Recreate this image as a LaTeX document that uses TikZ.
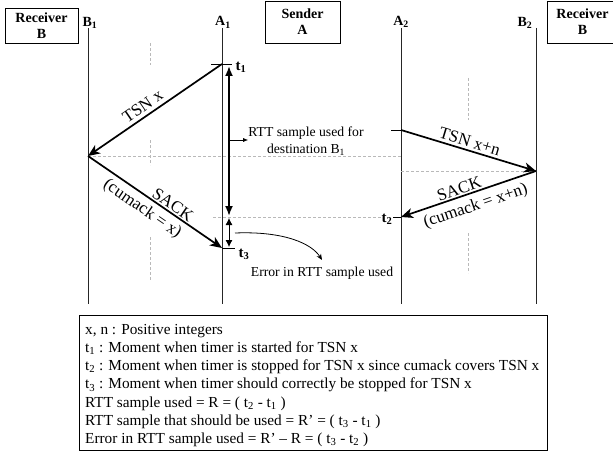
\documentclass[tikz,border=0pt]{standalone}
\usepackage{fontspec}
\setmainfont{Liberation Serif}
\usetikzlibrary{arrows.meta}
\begin{document}
\begin{tikzpicture}[x=1pt,y=-1pt,
  lifeline/.style={draw=black!85, line width=0.9pt},
  msg/.style={line width=1.7pt, -{Stealth[length=12pt,width=10pt,inset=3.5pt]}},
  tick/.style={draw=black, line width=0.9pt},
  guide/.style={draw=gray!55, line width=0.6pt, dash pattern=on 3pt off 2pt},
  hdrbox/.style={draw, line width=0.8pt, font=\fontsize{14}{16}\selectfont\bfseries, align=center, inner sep=0pt},
  lbl/.style={font=\fontsize{14}{16}\selectfont\bfseries, inner sep=0pt},
  tlbl/.style={font=\fontsize{15}{17}\selectfont\bfseries, inner sep=0pt},
  smalltxt/.style={font=\fontsize{13.7}{18}\selectfont, inner sep=0pt},
  arrlbl/.style={font=\fontsize{17}{19}\selectfont, sloped, inner sep=0.5pt},
]
\useasboundingbox (0,0) rectangle (613,452);

% header boxes
\node[hdrbox, minimum width=73, minimum height=35] (rxL) at (41.5,25.5) {Receiver\\B};
\node[hdrbox, minimum width=75, minimum height=42] (snd) at (302.5,22) {Sender\\A};
\node[hdrbox, minimum width=71, minimum height=42] (rxR) at (582.5,22) {Receiver\\B};

% lifeline labels
\node[lbl, anchor=base] (lB1) at (90,26.5) {B\textsubscript{1}};
\node[lbl, anchor=base] (lA1) at (223,26) {A\textsubscript{1}};
\node[lbl, anchor=base] (lA2) at (401,25.5) {A\textsubscript{2}};
\node[lbl, anchor=base] (lB2) at (525,26.5) {B\textsubscript{2}};

% lifelines
\coordinate (B1top) at (88,28);  \coordinate (B1bot) at (88,304);
\coordinate (A1top) at (222,28); \coordinate (A1bot) at (222,304);
\coordinate (A2top) at (401,28); \coordinate (A2bot) at (401,304);
\coordinate (B2top) at (536,28); \coordinate (B2bot) at (536,304);
\draw[lifeline] (B1top) -- (B1bot);
\draw[lifeline] (A1top) -- (A1bot);
\draw[lifeline] (A2top) -- (A2bot);
\draw[lifeline] (B2top) -- (B2bot);

% event points
\coordinate (t1) at (222,64);
\coordinate (rB1) at (88,156);
\coordinate (t3) at (222,248);
\coordinate (sA2) at (401,130);
\coordinate (rB2) at (536,171);
\coordinate (t2) at (401,217);

% guide lines
\coordinate (g1a) at (88,156);  \coordinate (g1b) at (401,156);
\coordinate (g2a) at (401,171); \coordinate (g2b) at (536,171);
\coordinate (g3a) at (213,217); \coordinate (g3b) at (383,217);
\draw[guide] (g1a) -- (g1b);
\draw[guide] (g2a) -- (g2b);
\draw[guide] (g3a) -- (g3b);
\coordinate (v1a) at (150,43);  \coordinate (v1b) at (150,65);
\coordinate (v2a) at (150,140); \coordinate (v2b) at (150,165);
\coordinate (v3a) at (150,237); \coordinate (v3b) at (150,280);
\coordinate (v4a) at (468,78);  \coordinate (v4b) at (468,120);
\coordinate (v5a) at (468,233); \coordinate (v5b) at (468,273);
\draw[guide] (v1a) -- (v1b);
\draw[guide] (v2a) -- (v2b);
\draw[guide] (v3a) -- (v3b);
\draw[guide] (v4a) -- (v4b);
\draw[guide] (v5a) -- (v5b);

% ticks
\coordinate (k1a) at (211,64);  \coordinate (k1b) at (232,64);
\coordinate (k3b) at (235,248);
\coordinate (k2a) at (391,130); \coordinate (k2b) at (403,130);
\coordinate (k4a) at (393,217);
\draw[tick] (k1a) -- (k1b);
\draw[tick] (t3) -- (k3b);
\draw[tick] (k2a) -- (k2b);
\draw[tick] (k4a) -- (t2);

% time labels
\node[tlbl] (lt1) at (241,67) {t\textsubscript{1}};
\node[tlbl] (lt3) at (244,254) {t\textsubscript{3}};
\node[tlbl] (lt2) at (387,219) {t\textsubscript{2}};

% messages
\draw[msg] (t1) -- (rB1) node[arrlbl, pos=0.55, above=3pt] (ltsnx) {TSN x};
\draw[msg] (rB1) -- (t3)
  node[arrlbl, pos=0.60, above=1pt] (lsack1) {SACK}
  node[arrlbl, pos=0.46, below=4pt] (lcum1) {(cumack = x)};
\draw[msg] (sA2) -- (rB2) node[arrlbl, pos=0.49, above=2pt] (ltsnxn) {TSN x+n};
\draw[msg] (rB2) -- (t2)
  node[arrlbl, pos=0.55, above=1pt] (lsack2) {SACK}
  node[arrlbl, pos=0.48, below=5pt] (lcum2) {(cumack = x+n)};

% RTT arrows
\coordinate (r1) at (229,66);  \coordinate (r2) at (229,216);
\coordinate (e1) at (229,218); \coordinate (e2) at (229,247);
\draw[line width=1.8pt, {Latex[length=10pt,width=8pt]}-{Latex[length=10pt,width=8pt]}] (r2) -- (r1);
\draw[line width=0.8pt, {Latex[length=7pt,width=7pt]}-{Latex[length=7pt,width=7pt]}] (e1) -- (e2);

% RTT sample note
\node[smalltxt, align=center, font=\fontsize{13.7}{17}\selectfont] (rttnote) at (306,141.5) {RTT sample used for\\destination B\textsubscript{1}};
\coordinate (ra) at (229,140);
\draw[line width=0.7pt, -{Latex[length=5pt,width=4pt]}] (ra) -- (rttnote.west |- ra);

% error note
\node[smalltxt] (errnote) at (322,273) {Error in RTT sample used};
\coordinate (ca) at (235,233);
\coordinate (cb) at (322,260);
\draw[line width=0.8pt, -{Stealth[length=6pt,width=5pt]}] (ca) .. controls (285,231) and (312,244) .. (cb);

% legend
\node[draw, line width=0.8pt, anchor=north west, minimum width=468, minimum height=135, inner sep=0pt] (legbox) at (79,315) {};
\node[smalltxt, anchor=west, align=left, font=\fontsize{15.3}{18.2}\selectfont] (legtxt) at (85,385.5) {%
x, n : Positive integers\\
t\textsubscript{1} : Moment when timer is started for TSN x\\
t\textsubscript{2} : Moment when timer is stopped for TSN x since cumack covers TSN x\\
t\textsubscript{3} : Moment when timer should correctly be stopped for TSN x\\
RTT sample used = R = ( t\textsubscript{2} - t\textsubscript{1} )\\
RTT sample that should be used = R’ = ( t\textsubscript{3} - t\textsubscript{1} )\\
Error in RTT sample used = R’ – R = ( t\textsubscript{3} - t\textsubscript{2} )};
\end{tikzpicture}
\end{document}
